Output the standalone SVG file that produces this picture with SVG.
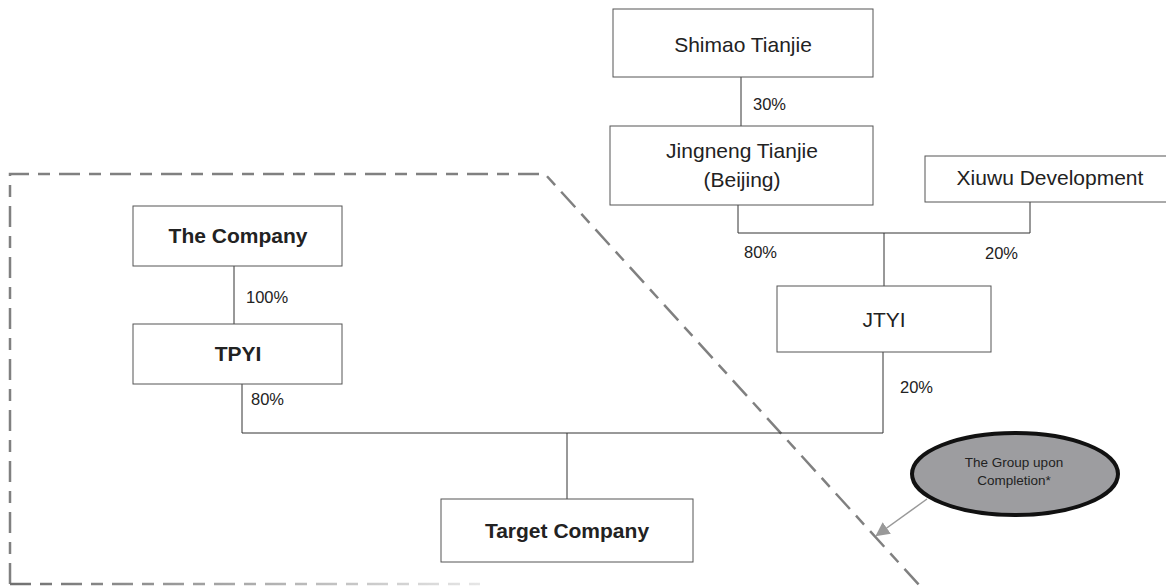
<svg xmlns="http://www.w3.org/2000/svg" width="1166" height="586" viewBox="0 0 1166 586">
<style>
.box{fill:#fff;stroke:#555;stroke-width:1}
.t{font-family:"Liberation Sans",Arial,sans-serif;font-size:21px;fill:#222;text-anchor:middle}
.b{font-weight:bold}
.p{font-family:"Liberation Sans",Arial,sans-serif;font-size:16.5px;fill:#222}
.ln{stroke:#333;stroke-width:1;fill:none}
.dash{stroke:#808080;stroke-width:2.5;fill:none;stroke-dasharray:21 9 12 9}
</style>
<defs>
<linearGradient id="fade" x1="10" y1="0" x2="480" y2="0" gradientUnits="userSpaceOnUse">
<stop offset="0" stop-color="#707070"/><stop offset="1" stop-color="#e6e6e6"/>
</linearGradient>
<marker id="ah" markerWidth="14" markerHeight="14" refX="12" refY="7" orient="auto" markerUnits="userSpaceOnUse">
<path d="M0,0 L14,7 L0,14 z" fill="#999"/>
</marker>
</defs>
<g id="boundary">
<path class="dash" d="M10,584 L10,174 L545,174 L920,586"/>
<path d="M10,584 L480,584" stroke="url(#fade)" stroke-width="2.5" stroke-dasharray="21 9 12 9" fill="none"/>
</g>
<g id="connectors">
<line class="ln" x1="741" y1="77" x2="741" y2="126"/>
<polyline class="ln" points="738,205 738,233 1030,233 1030,202"/>
<line class="ln" x1="884" y1="233" x2="884" y2="286"/>
<line class="ln" x1="234" y1="266" x2="234" y2="324"/>
<polyline class="ln" points="242,384 242,433 883,433 883,352"/>
<line class="ln" x1="567" y1="433" x2="567" y2="499"/>
<line x1="927" y1="499" x2="877" y2="535" stroke="#999" stroke-width="1.5" marker-end="url(#ah)"/>
</g>
<text class="p" x="753" y="110">30%</text>
<text class="p" x="744" y="258">80%</text>
<text class="p" x="985" y="259">20%</text>
<text class="p" x="900" y="393">20%</text>
<text class="p" x="246" y="303">100%</text>
<text class="p" x="251" y="405">80%</text>
<g id="shimao"><rect class="box" x="613" y="9" width="260" height="68"/><text class="t" x="743" y="52">Shimao Tianjie</text></g>
<g id="jingneng"><rect class="box" x="610" y="126" width="263" height="79"/><text class="t" x="742" y="158">Jingneng Tianjie</text><text class="t" x="742" y="187">(Beijing)</text></g>
<g id="xiuwu"><rect class="box" x="925" y="156" width="245" height="46"/><text class="t" x="1050" y="185">Xiuwu Development</text></g>
<g id="jtyi"><rect class="box" x="777" y="286" width="214" height="66"/><text class="t" x="884" y="327">JTYI</text></g>
<g id="company"><rect class="box" x="133" y="206" width="209" height="60"/><text class="t b" x="238" y="243">The Company</text></g>
<g id="tpyi"><rect class="box" x="133" y="324" width="209" height="60"/><text class="t b" x="238" y="361">TPYI</text></g>
<g id="target"><rect class="box" x="441" y="499" width="252" height="63"/><text class="t b" x="567" y="538">Target Company</text></g>
<g id="group"><ellipse cx="1015" cy="474" rx="103" ry="41" fill="#9d9da0" stroke="#111" stroke-width="4"/><text class="t" x="1014" y="467" style="font-size:13.5px">The Group upon</text><text class="t" x="1014" y="485" style="font-size:13.5px">Completion*</text></g>
</svg>
